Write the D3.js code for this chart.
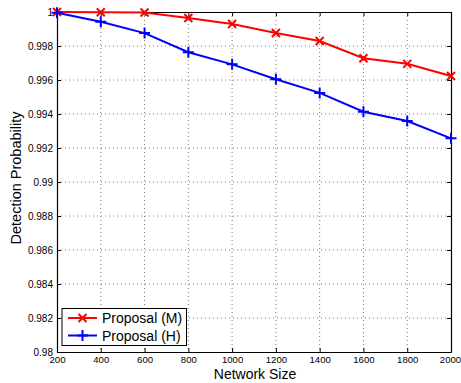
<!DOCTYPE html>
<html>
<head>
<meta charset="utf-8">
<script src="https://cdn.jsdelivr.net/npm/d3@7"></script>
<style>
  html, body { margin: 0; padding: 0; background: #fff; }
  svg { display: block; font-family: "Liberation Sans", Arial, Helvetica, sans-serif; }
</style>
</head>
<body>
<svg id="chart" width="461" height="383"></svg>
<script>
// Network sizes on the x axis
const networkSizes = [200, 400, 600, 800, 1000, 1200, 1400, 1600, 1800, 2000];
// Detection probability for each scheme
const proposalM = [1.0, 0.99999, 0.99997, 0.99965, 0.99929, 0.99876, 0.99829, 0.99728, 0.99695, 0.99624];
const proposalH = [0.99996, 0.99943, 0.99876, 0.99763, 0.99692, 0.99604, 0.99524, 0.99413, 0.99359, 0.99257];
const xTicks = [200, 400, 600, 800, 1000, 1200, 1400, 1600, 1800, 2000];
const yTicks = [0.98, 0.982, 0.984, 0.986, 0.988, 0.99, 0.992, 0.994, 0.996, 0.998, 1];
const seriesNames = ["Proposal (M)", "Proposal (H)"];

const svg = d3.select("#chart");
const L = 57, R = 451, T = 12, B = 352;

const x = d3.scaleLinear().domain([200, 2000]).range([L, R]);
const y = d3.scaleLinear().domain([0.98, 1]).range([B, T]);

const fmtY = d => String(+d.toFixed(3));

// Dotted grid
const grid = svg.append("g");
grid.selectAll("line.gx").data(xTicks.slice(1, -1)).join("line")
  .attr("x1", d => x(d)).attr("x2", d => x(d)).attr("y1", T).attr("y2", B)
  .attr("stroke", "#555").attr("stroke-width", 0.8).attr("stroke-dasharray", "1,3");
grid.selectAll("line.gy").data(yTicks.slice(1, -1)).join("line")
  .attr("x1", L).attr("x2", R).attr("y1", d => y(d)).attr("y2", d => y(d))
  .attr("stroke", "#555").attr("stroke-width", 0.8).attr("stroke-dasharray", "1,3");

// Axes with inward ticks
const axB = svg.append("g").attr("transform", `translate(0,${B})`)
  .call(d3.axisBottom(x).tickValues(xTicks).tickSizeInner(-4).tickSizeOuter(0).tickPadding(6).tickFormat(d3.format("d")));
const axL = svg.append("g").attr("transform", `translate(${L},0)`)
  .call(d3.axisLeft(y).tickValues(yTicks).tickSizeInner(-4).tickSizeOuter(0).tickPadding(4).tickFormat(fmtY));
const axT = svg.append("g").attr("transform", `translate(0,${T})`)
  .call(d3.axisTop(x).tickValues(xTicks).tickSizeInner(-4).tickSizeOuter(0).tickFormat(""));
const axR = svg.append("g").attr("transform", `translate(${R},0)`)
  .call(d3.axisRight(y).tickValues(yTicks).tickSizeInner(-4).tickSizeOuter(0).tickFormat(""));
[axB, axL, axT, axR].forEach(a => {
  a.select(".domain").attr("stroke", "#000").attr("stroke-width", 1.2);
  a.selectAll(".tick line").attr("stroke", "#000");
  a.selectAll("text").attr("font-size", 10).attr("fill", "#000")
    .attr("font-family", "Liberation Sans, Arial, sans-serif");
});
axB.selectAll("text").attr("dy", "0.5em").attr("font-size", 9.6);
// keep the last label inside the page edge
axB.selectAll(".tick").filter(d => d === 2000).select("text").attr("dx", -1);

// Series lines and markers
const line = d3.line().x((d, i) => x(networkSizes[i])).y(d => y(d));

function drawSeries(values, color, marker) {
  svg.append("path").datum(values).attr("d", line)
    .attr("fill", "none").attr("stroke", color).attr("stroke-width", 2);
  const g = svg.append("g");
  values.forEach((v, i) => drawMarker(g, x(networkSizes[i]), y(v), color, marker));
}

function drawMarker(g, cx, cy, color, marker) {
  const s = marker === "x" ? 4 : 5.5;
  const p = marker === "x"
    ? `M${cx - s},${cy - s}L${cx + s},${cy + s}M${cx - s},${cy + s}L${cx + s},${cy - s}`
    : `M${cx - s},${cy}L${cx + s},${cy}M${cx},${cy - s}L${cx},${cy + s}`;
  g.append("path").attr("d", p).attr("stroke", color).attr("stroke-width", 2).attr("fill", "none");
}

drawSeries(proposalM, "#ff0000", "x");
drawSeries(proposalH, "#0000ff", "+");

// Axis titles
svg.append("text").attr("x", 255).attr("y", 379).attr("text-anchor", "middle")
  .attr("font-size", 14).text("Network Size");
svg.append("text").attr("transform", `translate(21,178) rotate(-90)`)
  .attr("text-anchor", "middle").attr("font-size", 14.5).text("Detection Probability");

// Legend
const lg = svg.append("g");
lg.append("rect").attr("x", 62).attr("y", 308.5).attr("width", 124.5).attr("height", 37)
  .attr("fill", "#fff").attr("stroke", "#000").attr("stroke-width", 1);
[["#ff0000", "x"], ["#0000ff", "+"]].forEach(([c, m], i) => {
  const yy = 318 + i * 17.5;
  lg.append("line").attr("x1", 68).attr("x2", 97).attr("y1", yy).attr("y2", yy)
    .attr("stroke", c).attr("stroke-width", 2);
  drawMarker(lg, 82.5, yy, c, m);
  lg.append("text").attr("x", 102).attr("y", yy).attr("dy", "0.36em")
    .attr("font-size", 14).text(seriesNames[i]);
});
</script>
</body>
</html>
